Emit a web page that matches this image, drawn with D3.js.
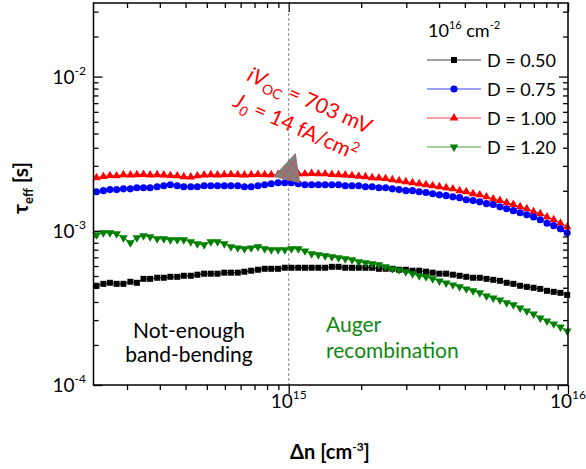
<!DOCTYPE html>
<html>
<head>
<meta charset="utf-8">
<script src="https://cdn.jsdelivr.net/npm/d3@7"></script>
<style>
body{margin:0;background:#fff}
svg{display:block}
text{font-family:Lato,'Open Sans',sans-serif}
</style>
</head>
<body>
<svg id="chart" width="586" height="469"></svg>
<script>
// injection level, cm^-3
const deltaN = [2.05e14,2.17e14,2.29e14,2.42e14,2.56e14,2.71e14,2.86e14,3.02e14,3.19e14,3.38e14,
  3.57e14,3.77e14,3.99e14,4.21e14,4.46e14,4.71e14,4.98e14,5.26e14,5.56e14,5.88e14,
  6.21e14,6.57e14,6.94e14,7.34e14,7.76e14,8.20e14,8.66e14,9.16e14,9.68e14,1.023e15,
  1.082e15,1.143e15,1.208e15,1.277e15,1.350e15,1.427e15,1.508e15,1.594e15,1.685e15,1.781e15,
  1.883e15,1.990e15,2.103e15,2.223e15,2.350e15,2.484e15,2.626e15,2.775e15,2.933e15,3.101e15,
  3.277e15,3.464e15,3.662e15,3.870e15,4.091e15,4.324e15,4.571e15,4.831e15,5.107e15,5.398e15,
  5.706e15,6.031e15,6.375e15,6.738e15,7.122e15,7.528e15,7.957e15,8.411e15,8.890e15,9.397e15,9.933e15];

// effective lifetime in ms
const tauD050 = [0.440,0.453,0.460,0.453,0.453,0.467,0.460,0.488,0.488,0.496,
  0.496,0.503,0.503,0.511,0.511,0.519,0.527,0.527,0.527,0.535,
  0.535,0.535,0.543,0.551,0.559,0.567,0.567,0.567,0.576,0.576,
  0.576,0.576,0.576,0.576,0.576,0.584,0.584,0.576,0.576,0.576,
  0.576,0.576,0.567,0.567,0.567,0.559,0.559,0.551,0.551,0.543,
  0.535,0.527,0.527,0.519,0.511,0.503,0.496,0.496,0.488,0.481,
  0.474,0.460,0.453,0.440,0.433,0.427,0.420,0.408,0.402,0.396,0.384];
const tauD075 = [1.79,1.82,1.85,1.85,1.87,1.87,1.90,1.90,1.90,1.93,
  1.96,1.99,1.96,1.93,1.93,1.93,1.96,1.96,1.96,1.96,
  1.96,1.96,1.93,1.93,1.96,1.99,2.02,2.05,2.05,2.05,
  2.02,1.99,1.99,1.99,1.99,1.99,1.99,1.96,1.96,1.96,
  1.93,1.93,1.90,1.90,1.87,1.85,1.82,1.82,1.79,1.77,
  1.74,1.71,1.69,1.66,1.64,1.59,1.57,1.54,1.50,1.48,
  1.43,1.39,1.35,1.31,1.27,1.23,1.18,1.12,1.08,1.03,0.97];
const tauD100 = [2.21,2.25,2.28,2.27,2.31,2.30,2.31,2.32,2.30,2.31,
  2.30,2.28,2.27,2.24,2.23,2.27,2.30,2.31,2.30,2.31,
  2.32,2.31,2.30,2.31,2.32,2.31,2.31,2.32,2.33,2.34,
  2.34,2.34,2.35,2.34,2.34,2.32,2.31,2.30,2.28,2.26,
  2.24,2.21,2.20,2.18,2.14,2.11,2.08,2.05,2.02,1.99,
  1.96,1.93,1.90,1.87,1.82,1.79,1.74,1.71,1.66,1.61,
  1.57,1.52,1.48,1.43,1.39,1.33,1.29,1.23,1.18,1.12,1.06];
const tauD120 = [0.942,0.971,0.971,0.956,0.901,0.836,0.901,0.928,0.914,0.887,
  0.887,0.874,0.874,0.874,0.848,0.823,0.811,0.848,0.848,0.823,
  0.787,0.775,0.764,0.775,0.787,0.764,0.753,0.753,0.753,0.764,
  0.764,0.741,0.709,0.699,0.688,0.678,0.668,0.658,0.649,0.630,
  0.620,0.611,0.602,0.584,0.566,0.558,0.542,0.526,0.510,0.503,
  0.488,0.473,0.459,0.446,0.433,0.420,0.408,0.396,0.378,0.367,
  0.356,0.341,0.331,0.316,0.302,0.289,0.272,0.260,0.249,0.238,0.224];

const seriesNames = ["D = 0.50","D = 0.75","D = 1.00","D = 1.20"];
const seriesColors = ["#000000","#0000ff","#ff0000","#008000"];
const seriesSymbols = ["square","circle","up","down"];
const seriesTau = [tauD050,tauD075,tauD100,tauD120];

const xMajorTicks = [1e15,1e16];
const xTickExp = ["15","16"];
const yMajorTicks = [1e-4,1e-3,1e-2];
const yTickExp = ["-4","-3","-2"];

const plotLeft=93.5, plotRight=568, plotTop=3, plotBottom=385;
const svg = d3.select("#chart");

var x = d3.scaleLog().domain([2e14,1e16]).range([plotLeft,plotRight]);
var y = d3.scaleLog().domain([1e-4,3e-2]).range([plotBottom,plotTop]);

// origin style minor ticks: 10 per decade, linear between majors
function minorTicks(lo,hi){
  var out=[];
  for(let d=Math.floor(Math.log10(lo)); d<Math.log10(hi); d++){
    for(let k=1;k<=10;k++){
      var v=Math.pow(10,d)*(1+9*k/11);
      if(v>lo && v<hi) out.push(v);
    }
  }
  return out;
}

function tickAxis(axisFn, scale, values, size, transform){
  var g = svg.append("g").attr("transform",transform)
    .call(axisFn(scale).tickValues(values).tickSize(size).tickSizeOuter(0).tickFormat(""));
  g.select(".domain").remove();
  g.selectAll(".tick line").attr("stroke","#000").attr("stroke-width",1.3);
}

var xMinor = minorTicks(2e14,1e16);
var yMinor = minorTicks(1e-4,3e-2);

tickAxis(d3.axisBottom, x, xMinor, 5, "translate(0,"+plotBottom+")");
tickAxis(d3.axisBottom, x, xMajorTicks, 9, "translate(0,"+plotBottom+")");
tickAxis(d3.axisBottom, x, xMinor, 5, "translate(0,"+plotTop+")");
tickAxis(d3.axisBottom, x, xMajorTicks, 9, "translate(0,"+plotTop+")");
tickAxis(d3.axisRight, y, yMinor, 5, "translate("+plotLeft+",0)");
tickAxis(d3.axisRight, y, yMajorTicks, 9, "translate("+plotLeft+",0)");
tickAxis(d3.axisLeft, y, yMinor, 5, "translate("+plotRight+",0)");
tickAxis(d3.axisLeft, y, yMajorTicks, 9, "translate("+plotRight+",0)");

// dashed line at 1e15
svg.append("line")
  .attr("x1",x(1e15)).attr("x2",x(1e15))
  .attr("y1",plotTop).attr("y2",plotBottom)
  .attr("stroke","#888").attr("stroke-width",1)
  .attr("stroke-dasharray","3,2");

// tick labels
xMajorTicks.forEach(function(v,i){
  var t = svg.append("text").attr("x",x(v)).attr("y",408)
    .attr("text-anchor","middle").style("font-size","19px").attr("fill","#000");
  t.append("tspan").text("10");
  t.append("tspan").text(xTickExp[i]).attr("dy",-9).style("font-size","12px");
});
yMajorTicks.forEach(function(v,i){
  var t = svg.append("text").attr("x",86).attr("y",y(v)+7)
    .attr("text-anchor","end").style("font-size","19px").attr("fill","#000");
  t.append("tspan").text("10");
  t.append("tspan").text(yTickExp[i]).attr("dy",-9).style("font-size","12px");
});

// axis titles
var xt = svg.append("text").attr("x",330).attr("y",459)
  .attr("text-anchor","middle").style("font-size","20px").style("font-weight","bold");
xt.append("tspan").text("\u0394n [cm");
xt.append("tspan").text("-3").attr("dy",-8).style("font-size","12px");
xt.append("tspan").text("]").attr("dy",8);

var yt = svg.append("text").attr("transform","translate(28,188) rotate(-90)")
  .attr("text-anchor","middle").style("font-size","21px").style("font-weight","bold");
yt.append("tspan").text("\u03c4");
yt.append("tspan").text("eff").attr("dy",5).style("font-size","13px");
yt.append("tspan").text(" [s]").attr("dy",-5);

function symbolPath(kind){
  if(kind=="square") return d3.symbol(d3.symbolSquare,36)();
  if(kind=="circle") return d3.symbol(d3.symbolCircle,40)();
  return d3.symbol(d3.symbolTriangle,32)();
}

var line = d3.line().x(d=>x(d[0])).y(d=>y(d[1]));
var drawOrder = [0,2,1,3];
drawOrder.forEach(function(s){
  var pts = deltaN.map((n,i)=>[n, seriesTau[s][i]*1e-3]);
  svg.append("path").datum(pts).attr("d",line)
    .attr("fill","none").attr("stroke",seriesColors[s]).attr("stroke-width",1);
  svg.append("g").selectAll("path").data(pts).enter().append("path")
    .attr("d",symbolPath(seriesSymbols[s]))
    .attr("transform",function(d){
      return "translate("+x(d[0])+","+y(d[1])+")"+(seriesSymbols[s]=="down"?" rotate(180)":"");
    })
    .attr("fill",seriesColors[s]);
});

// frame
svg.append("rect").attr("x",plotLeft).attr("y",plotTop)
  .attr("width",plotRight-plotLeft).attr("height",plotBottom-plotTop)
  .attr("fill","none").attr("stroke","#000").attr("stroke-width",1.5);

// legend
var lg = svg.append("g");
var lt = lg.append("text").attr("x",428).attr("y",37).style("font-size","18px");
lt.append("tspan").text("10");
lt.append("tspan").text("16").attr("dy",-8).style("font-size","11px");
lt.append("tspan").text(" cm").attr("dy",8);
lt.append("tspan").text("-2").attr("dy",-8).style("font-size","11px");
seriesNames.forEach(function(name,i){
  var ly = 60 + i*29;
  lg.append("line").attr("x1",427).attr("x2",481).attr("y1",ly).attr("y2",ly)
    .attr("stroke",seriesColors[i]).attr("stroke-width",1.2).attr("stroke-opacity",0.75);
  lg.append("path").attr("d",symbolPath(seriesSymbols[i]))
    .attr("transform","translate(454,"+ly+")"+(seriesSymbols[i]=="down"?" rotate(180)":""))
    .attr("fill",seriesColors[i]);
  lg.append("text").attr("x",487).attr("y",ly+7).style("font-size","18px").text(name);
});

// pointer triangle at 1e15 on the D=1.00 curve
var defs = svg.append("defs");
var pat = defs.append("pattern").attr("id","hatch").attr("patternUnits","userSpaceOnUse")
  .attr("width",7).attr("height",7).attr("patternTransform","rotate(40)");
pat.append("rect").attr("width",7).attr("height",7).attr("fill","#808080");
pat.append("line").attr("x1",0).attr("y1",0).attr("x2",0).attr("y2",7)
  .attr("stroke","#ff3030").attr("stroke-width",1);
pat.append("line").attr("x1",0).attr("y1",0).attr("x2",7).attr("y2",0)
  .attr("stroke","#ff3030").attr("stroke-width",0.8);
var px = x(1e15), py = y(2.34e-3);
svg.append("path")
  .attr("d","M"+(px+7)+","+(py-21)+"L"+(px-15.5)+","+(py+3)+"L"+(px+11.5)+","+(py+9.5)+"Z")
  .attr("fill","url(#hatch)");

// annotations
var a1 = svg.append("text").attr("transform","translate(246,80) rotate(24)")
  .attr("fill","#ff0000").style("font-size","21px");
a1.append("tspan").text("iV").style("font-style","italic");
a1.append("tspan").text("OC").attr("dy",5).style("font-size","14px");
a1.append("tspan").text(" = 703 mV").attr("dy",-5);
var a2 = svg.append("text").attr("transform","translate(232,106) rotate(24)")
  .attr("fill","#ff0000").style("font-size","21px");
a2.append("tspan").text("J").style("font-style","italic");
a2.append("tspan").text("0").attr("dy",5).style("font-size","14px").style("font-style","italic");
a2.append("tspan").text(" = 14 fA/cm").attr("dy",-5);
a2.append("tspan").text("2").attr("dy",-8).style("font-size","14px");

svg.append("text").attr("x",189).attr("y",338).attr("text-anchor","middle")
  .style("font-size","21px").text("Not-enough");
svg.append("text").attr("x",189).attr("y",362).attr("text-anchor","middle")
  .style("font-size","21px").text("band-bending");
svg.append("text").attr("x",326).attr("y",332)
  .style("font-size","21px").attr("fill","#118811").text("Auger");
svg.append("text").attr("x",326).attr("y",358)
  .style("font-size","21px").attr("fill","#118811").text("recombination");
</script>
</body>
</html>
